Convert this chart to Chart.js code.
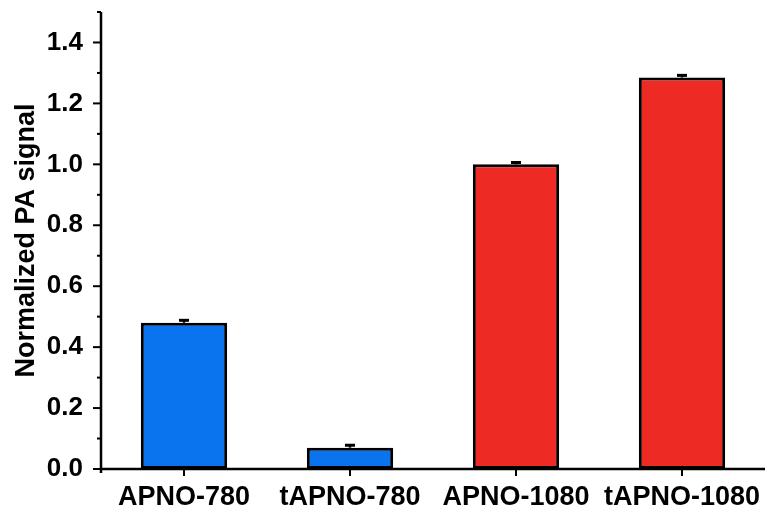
<!DOCTYPE html>
<html>
<head>
<meta charset="utf-8">
<script src="https://cdn.jsdelivr.net/npm/chart.js@4/dist/chart.umd.min.js"></script>
<style>
  html, body { margin: 0; padding: 0; background: #fff; }
  #wrap { width: 767px; height: 514px; position: relative; }
</style>
</head>
<body>
<div id="wrap"><canvas id="c"></canvas></div>
<script>
// Samples and their normalized photoacoustic signal
const categories = ['APNO-780', 'tAPNO-780', 'APNO-1080', 'tAPNO-1080'];
const signal = [0.48, 0.07, 1.00, 1.285];
const signalErr = [0.008, 0.008, 0.006, 0.007];
const barColors = ['#0A74EE', '#0A74EE', '#EE2A24', '#EE2A24'];
const yMajorTicks = [0, 0.2, 0.4, 0.6, 0.8, 1.0, 1.2, 1.4];
const yMinorTicks = [0.1, 0.3, 0.5, 0.7, 0.9, 1.1, 1.3, 1.5];

// Axis lines, outward ticks and upper error bars drawn from the scales
const axesAndErrors = {
  id: 'axesAndErrors',
  afterDatasetsDraw(chart) {
    const ctx = chart.ctx;
    const x = chart.scales.x, y = chart.scales.y;
    const area = chart.chartArea;
    ctx.save();
    ctx.strokeStyle = '#000';

    // error bars (upper half only)
    const meta = chart.getDatasetMeta(0);
    signal.forEach((v, i) => {
      const cx = meta.data[i].x;
      const y0 = y.getPixelForValue(v);
      const y1 = y.getPixelForValue(v + signalErr[i]);
      ctx.lineWidth = 2.5;
      ctx.beginPath();
      ctx.moveTo(cx, y0);
      ctx.lineTo(cx, y1);
      ctx.stroke();
      ctx.lineWidth = 3;
      ctx.beginPath();
      ctx.moveTo(cx - 5, y1);
      ctx.lineTo(cx + 5, y1);
      ctx.stroke();
    });

    // axis lines
    ctx.lineWidth = 2.5;
    ctx.lineCap = 'butt';
    ctx.beginPath();
    ctx.moveTo(area.left, area.top);
    ctx.lineTo(area.left, area.bottom + 4);
    ctx.moveTo(area.left - 1.25, area.bottom);
    ctx.lineTo(area.right, area.bottom);
    ctx.stroke();

    // y ticks
    ctx.lineWidth = 2;
    yMajorTicks.forEach(t => {
      const py = y.getPixelForValue(t);
      ctx.beginPath();
      ctx.moveTo(area.left - 8, py);
      ctx.lineTo(area.left, py);
      ctx.stroke();
    });
    yMinorTicks.forEach(t => {
      const py = y.getPixelForValue(t);
      ctx.beginPath();
      ctx.moveTo(area.left - 4, py);
      ctx.lineTo(area.left, py);
      ctx.stroke();
    });
    // x ticks
    categories.forEach((c, i) => {
      const px = x.getPixelForValue(i);
      ctx.beginPath();
      ctx.moveTo(px, area.bottom);
      ctx.lineTo(px, area.bottom + 7);
      ctx.stroke();
    });
    ctx.restore();
  }
};

const family = '"Liberation Sans", Arial, sans-serif';
const labelFont = { family: family, size: 27, weight: 'bold' };
const tickFont = { family: family, size: 26, weight: 'bold' };

new Chart(document.getElementById('c'), {
  type: 'bar',
  data: {
    labels: categories,
    datasets: [{
      data: signal,
      backgroundColor: barColors,
      borderColor: '#000',
      borderWidth: 3,
      borderSkipped: false,
      barPercentage: 0.52,
      categoryPercentage: 1.0
    }]
  },
  options: {
    responsive: true,
    maintainAspectRatio: false,
    animation: false,
    devicePixelRatio: 1,
    layout: { padding: { top: 12, right: 2, left: 0, bottom: 0 } },
    plugins: { legend: { display: false }, tooltip: { enabled: false } },
    scales: {
      x: {
        grid: { display: false, drawTicks: false },
        border: { display: false },
        ticks: { color: '#000', font: labelFont, padding: 12, maxRotation: 0, autoSkip: false },
        afterFit: s => { s.height = 45; s.paddingLeft = 0; s.paddingRight = 0; }
      },
      y: {
        min: 0,
        max: 1.5,
        grid: { display: false, drawTicks: false },
        border: { display: false },
        afterBuildTicks: s => { s.ticks = yMajorTicks.map(v => ({ value: v })); },
        ticks: {
          color: '#000',
          font: tickFont,
          padding: 18,
          callback: v => v.toFixed(1)
        },
        title: {
          display: true,
          text: 'Normalized PA signal',
          color: '#000',
          font: labelFont,
          padding: { top: 10, bottom: 0 }
        },
        afterFit: s => { s.width = 101; s.paddingTop = 0; s.paddingBottom = 0; }
      }
    }
  },
  plugins: [axesAndErrors]
});
</script>
</body>
</html>
